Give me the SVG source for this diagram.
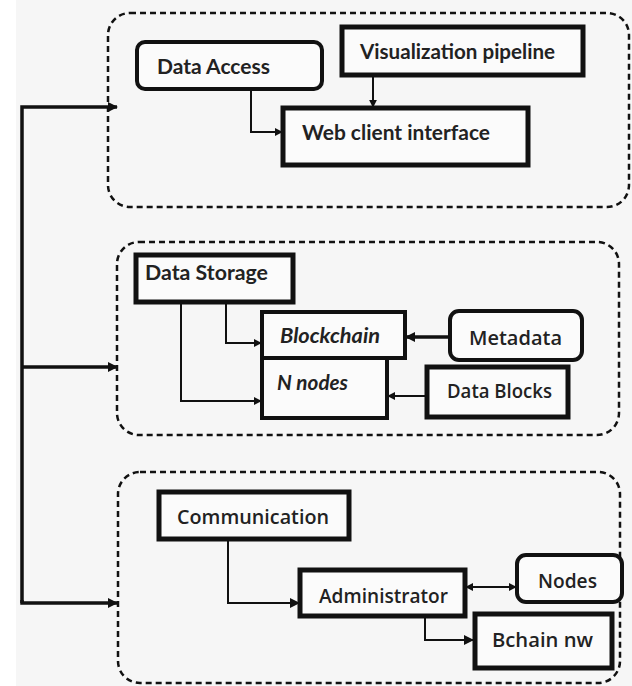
<svg xmlns="http://www.w3.org/2000/svg" width="632" height="686" viewBox="0 0 632 686">
<defs>
<style>
.grp{fill:none;stroke:#111;stroke-width:2.5;stroke-dasharray:6 4}
.box{fill:#fbfbfb;stroke:#111;stroke-width:4}
.thick{fill:#fbfbfb;stroke:#111;stroke-width:5}
.t{font-family:Lato,"Liberation Sans",sans-serif;font-weight:bold;font-size:20px;fill:#222}
.ti{font-family:Lato,"Liberation Sans",sans-serif;font-weight:bold;font-style:italic;font-size:20px;fill:#222}
.tm{font-family:"Open Sans","Liberation Sans",sans-serif;font-weight:600;font-size:19px;fill:#222}
.c{fill:none;stroke:#111;stroke-width:2}
.cm{fill:none;stroke:#111;stroke-width:3.5}
</style>
<marker id="ah" viewBox="0 0 10 10" refX="9" refY="5" markerWidth="8" markerHeight="8" orient="auto-start-reverse" markerUnits="userSpaceOnUse">
<path d="M0,0 L10,5 L0,10 z" fill="#111"/>
</marker>
<marker id="ahb" viewBox="0 0 10 10" refX="9" refY="5" markerWidth="10" markerHeight="10" orient="auto" markerUnits="userSpaceOnUse">
<path d="M0,0 L10,5 L0,10 z" fill="#111"/>
</marker>
</defs>
<rect x="0" y="0" width="632" height="686" fill="#ffffff"/>
<rect x="16" y="0" width="616" height="686" fill="#f6f6f6"/>

<g id="group-access">
<rect class="grp" x="108" y="13" width="521" height="194" rx="22"/>
</g>
<g id="group-storage">
<rect class="grp" x="117" y="242" width="502" height="193" rx="22"/>
</g>
<g id="group-communication">
<rect class="grp" x="118" y="472" width="502" height="211" rx="22"/>
</g>

<g id="connectors">
<polyline class="cm" points="22,603 22,107 117,107" marker-end="url(#ahb)"/>
<polyline class="cm" points="22,367 117,367" marker-end="url(#ahb)"/>
<polyline class="cm" points="22,600 22,603 117,603" marker-end="url(#ahb)"/>
<polyline class="c" points="251,89 251,132 282,132" marker-end="url(#ah)"/>
<polyline class="c" points="373,75 373,107" marker-end="url(#ah)"/>
<polyline class="c" points="226,302 226,343 261,343" marker-end="url(#ah)"/>
<polyline class="c" points="181,302 181,401 261,401" marker-end="url(#ah)"/>
<polyline class="cm" points="450,337 406,337" marker-end="url(#ahb)"/>
<polyline class="c" points="427,396 388,396" marker-end="url(#ah)"/>
<polyline class="c" points="228,539 228,603 299,603" marker-end="url(#ahb)"/>
<polyline class="c" points="466,587 516,587" marker-start="url(#ah)" marker-end="url(#ah)"/>
<polyline class="c" points="425,616 425,640 473,640" marker-end="url(#ahb)"/>
</g>

<g id="data-access">
<rect class="box" x="137" y="42" width="185" height="47" rx="8"/>
<text class="t" x="157" y="74" textLength="113" lengthAdjust="spacingAndGlyphs">Data Access</text>
</g>
<g id="visualization-pipeline">
<rect class="thick" x="342" y="27" width="241" height="48"/>
<text class="t" x="360" y="59" textLength="195" lengthAdjust="spacingAndGlyphs">Visualization pipeline</text>
</g>
<g id="web-client-interface">
<rect class="thick" x="283" y="108" width="245" height="57"/>
<text class="t" x="302" y="140" textLength="188" lengthAdjust="spacingAndGlyphs">Web client interface</text>
</g>

<g id="data-storage">
<rect class="thick" x="136" y="255" width="157" height="47"/>
<text class="t" x="145" y="280" textLength="123" lengthAdjust="spacingAndGlyphs">Data Storage</text>
</g>
<g id="blockchain">
<rect class="box" x="262" y="312" width="143" height="46"/>
<text class="ti" x="280" y="343" textLength="100" lengthAdjust="spacingAndGlyphs">Blockchain</text>
</g>
<g id="n-nodes">
<rect class="box" x="262" y="358" width="125" height="60"/>
<text class="ti" x="277" y="390" textLength="71" lengthAdjust="spacingAndGlyphs">N nodes</text>
</g>
<g id="metadata">
<rect class="box" x="450" y="311" width="132" height="49" rx="9"/>
<text class="tm" x="469" y="345" textLength="93" lengthAdjust="spacingAndGlyphs">Metadata</text>
</g>
<g id="data-blocks">
<rect class="thick" x="427" y="367" width="141" height="50"/>
<text class="tm" x="447" y="398" textLength="105" lengthAdjust="spacingAndGlyphs">Data Blocks</text>
</g>

<g id="communication">
<rect class="thick" x="159" y="492" width="190" height="47"/>
<text class="tm" x="177" y="524" textLength="152" lengthAdjust="spacingAndGlyphs">Communication</text>
</g>
<g id="administrator">
<rect class="thick" x="300" y="570" width="165" height="46"/>
<text class="tm" x="319" y="603" textLength="129" lengthAdjust="spacingAndGlyphs">Administrator</text>
</g>
<g id="nodes">
<rect class="box" x="517" y="555" width="105" height="47" rx="9"/>
<text class="tm" x="538" y="588" textLength="59" lengthAdjust="spacingAndGlyphs">Nodes</text>
</g>
<g id="bchain-nw">
<rect class="thick" x="475" y="614" width="137" height="54"/>
<text class="tm" x="492" y="647" textLength="101" lengthAdjust="spacingAndGlyphs">Bchain nw</text>
</g>
</svg>
